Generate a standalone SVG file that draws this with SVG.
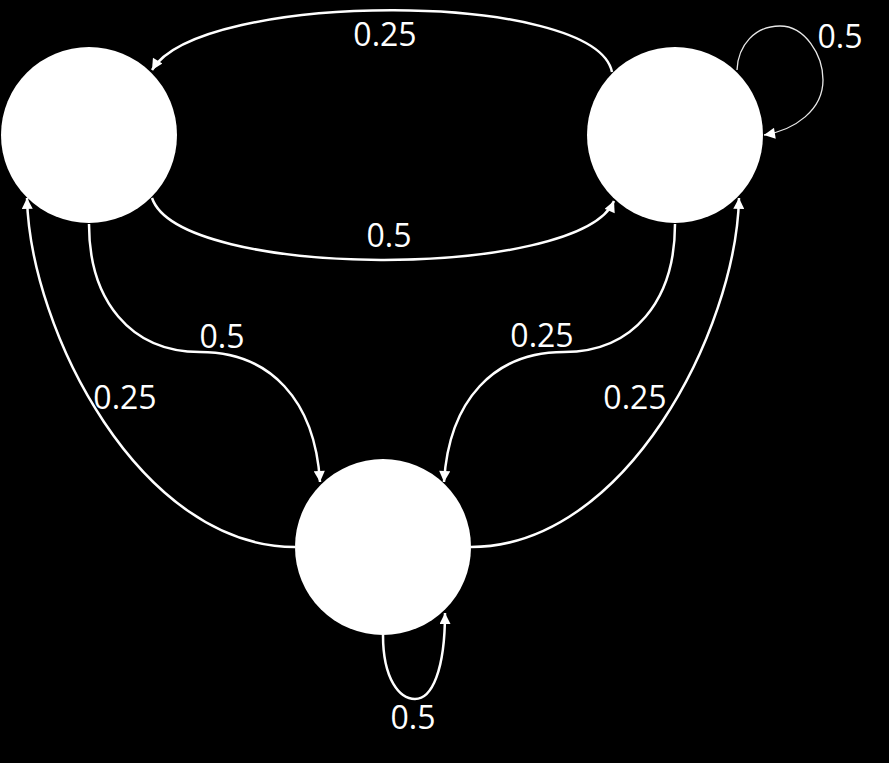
<svg xmlns="http://www.w3.org/2000/svg" width="889" height="763" viewBox="0 0 889 763">
<style>
.bg{fill:#000}
.node{fill:#fff}
.edge{fill:none;stroke:#fff;stroke-width:2.5}
.thin{fill:none;stroke:#e8e8e8;stroke-width:1.3}
.lbl{font-family:"Open Sans","Noto Sans",sans-serif;font-size:32px;fill:#fff;text-anchor:middle}
</style>
<defs>
<marker id="arr" viewBox="0 0 10 10" refX="10" refY="5" markerWidth="12" markerHeight="11" markerUnits="userSpaceOnUse" orient="auto">
<path d="M0,0 L10,5 L0,10 z" fill="#fff"/>
</marker>
</defs>
<rect class="bg" x="0" y="0" width="889" height="763"/>
<g id="nodeA"><circle class="node" cx="89" cy="135" r="88"/></g>
<g id="nodeB"><circle class="node" cx="675" cy="135" r="88"/></g>
<g id="nodeC"><circle class="node" cx="383" cy="547" r="88"/></g>
<g id="connectors">
<path class="edge" d="M612,72 C595,-10 200,-10 152,70" marker-end="url(#arr)"/>
<path class="edge" d="M152,198 C180,280 580,280 614,201" marker-end="url(#arr)"/>
<path class="edge" d="M89,224 C89,300 130,352 200,352 C270,352 315,400 320,482" marker-end="url(#arr)"/>
<path class="edge" d="M675,224 C675,300 634,352 564,352 C494,352 449,400 444,482" marker-end="url(#arr)"/>
<path class="edge" d="M295,547 C140,547 30,330 27,198" marker-end="url(#arr)"/>
<path class="edge" d="M471,547 C626,547 736,330 739,198" marker-end="url(#arr)"/>
<path class="thin" d="M737,70 C738,45 755,26 780,26 C805,26 823,55 823,80 C823,110 795,130 764,135" marker-end="url(#arr)"/>
<path class="edge" d="M383,635 C383,680 400,699 415,699 C432,699 445,670 445,613" marker-end="url(#arr)"/>
</g>
<g id="labels">
<text class="lbl" x="385" y="46">0.25</text>
<text class="lbl" x="389" y="247">0.5</text>
<text class="lbl" x="222" y="348">0.5</text>
<text class="lbl" x="542" y="347">0.25</text>
<text class="lbl" x="125" y="409">0.25</text>
<text class="lbl" x="635" y="409">0.25</text>
<text class="lbl" x="840" y="48">0.5</text>
<text class="lbl" x="413" y="729">0.5</text>
</g>
</svg>
